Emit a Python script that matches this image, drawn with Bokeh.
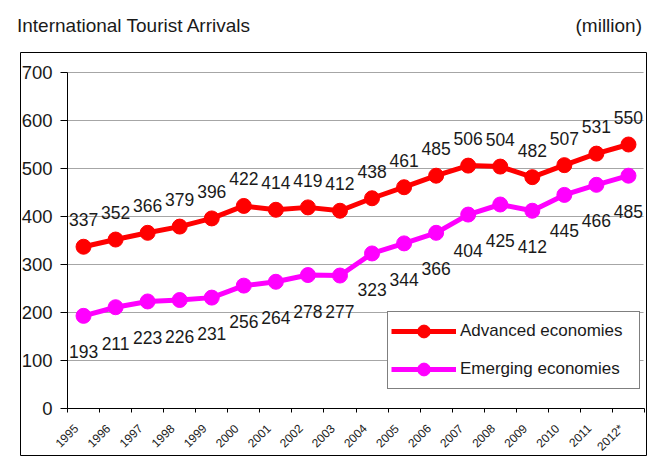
import math
from bokeh.plotting import figure
from bokeh.layouts import column
from bokeh.models import (ColumnDataSource, Range1d, LinearAxis, FixedTicker, Div,
                          CustomJSTickFormatter, Legend, LegendItem)
from bokeh.core.properties import value
from bokeh.embed import file_html
from bokeh.resources import INLINE

years = ["1995", "1996", "1997", "1998", "1999", "2000", "2001", "2002", "2003",
         "2004", "2005", "2006", "2007", "2008", "2009", "2010", "2011", "2012*"]
advanced = [337, 352, 366, 379, 396, 422, 414, 419, 412, 438, 461, 485, 506, 504, 482, 507, 531, 550]
emerging = [193, 211, 223, 226, 231, 256, 264, 278, 277, 323, 344, 366, 404, 425, 412, 445, 466, 485]
y_ticks = [0, 100, 200, 300, 400, 500, 600, 700]

FONT = "Liberation Sans"
RED = "#ff0000"
MAG = "#ff00ff"
TXT = "#1a1a1a"

# ---- layout constants (pixels) ----
HEADER_H = 52                 # header strip above the chart box
BOX_L, BOX_R = 20, 646        # chart box (the plot frame) in page x
BOX_H = 404                   # chart box height (to bottom of window)
AX_L, AX_R = 67, 644          # axis extents in page x
AX_TOP, AX_BOT = 72, 408      # y=700 and y=0 in page y
n = len(years)
ymax = y_ticks[-1]
cw = (AX_R - AX_L) / n                       # px per category
ppu = (AX_BOT - AX_TOP) / ymax               # px per unit
x_start = -(AX_L - BOX_L) / cw
x_end = n + (BOX_R - AX_R) / cw
y_end = ymax + (AX_TOP - HEADER_H) / ppu
y_start = -(HEADER_H + BOX_H - AX_BOT) / ppu

xpos = [i + 0.5 for i in range(n)]           # category centres

header = Div(text=(
    '<div style="position:relative;width:660px;height:%dpx;font-family:\'Liberation Sans\';'
    'font-size:19px;line-height:1;color:%s;">'
    '<span style="position:absolute;left:17px;top:16px;">International Tourist Arrivals</span>'
    '<span style="position:absolute;right:18px;top:16px;">(million)</span></div>') % (HEADER_H, TXT),
    width=660, height=HEADER_H, margin=0)

p = figure(width=BOX_R + 14, height=BOX_H, x_range=Range1d(x_start, x_end),
           y_range=Range1d(y_start, y_end),
           output_backend="svg", toolbar_location=None, title=None,
           x_axis_location=None, y_axis_location=None,
           min_border_left=BOX_L, min_border_right=14, min_border_top=0, min_border_bottom=0,
           margin=0)
p.outline_line_color = "black"
p.outline_line_width = 1
p.background_fill_color = "white"
p.border_fill_color = "white"
p.grid.visible = False

# gridlines between the axes
p.segment(x0=0, x1=n - 0.03, y0=y_ticks[1:], y1=y_ticks[1:], line_color="#a6a6a6", line_width=1)

# x axis: labels at category centres, ticks at category boundaries
xa = LinearAxis(ticker=FixedTicker(ticks=xpos, minor_ticks=list(range(n + 1))),
                formatter=CustomJSTickFormatter(
                    args=dict(labels=years),
                    code="return labels[Math.floor(tick)] + '\\u00a0\\u00a0\\u00a0';"),
                fixed_location=0, bounds=(0, n))
xa.major_tick_out = 4
xa.major_tick_in = 0
xa.major_tick_line_color = None
xa.minor_tick_out = 4
xa.minor_tick_in = 0
xa.minor_tick_line_color = "black"
xa.axis_line_color = "black"
xa.major_label_orientation = math.pi / 4
xa.major_label_standoff = 7
xa.major_label_text_font = FONT
xa.major_label_text_font_size = "12px"
xa.major_label_text_color = TXT
p.add_layout(xa, "below")

ya = LinearAxis(ticker=FixedTicker(ticks=y_ticks), fixed_location=0, bounds=(0, ymax))
ya.major_tick_out = 7
ya.major_tick_in = 0
ya.minor_tick_line_color = None
ya.axis_line_color = "black"
ya.major_tick_line_color = "black"
ya.major_label_standoff = 8
ya.major_label_text_font = FONT
ya.major_label_text_font_size = "18.5px"
ya.major_label_text_color = TXT
p.add_layout(ya, "left")

r1 = p.line(xpos, advanced, line_color=RED, line_width=5)
s1 = p.scatter(xpos, advanced, size=15, fill_color=RED, line_color=RED)
r2 = p.line(xpos, emerging, line_color=MAG, line_width=5)
s2 = p.scatter(xpos, emerging, size=15, fill_color=MAG, line_color=MAG)

src_a = ColumnDataSource(dict(x=xpos, y=advanced, t=[str(v) for v in advanced]))
src_e = ColumnDataSource(dict(x=xpos, y=emerging, t=[str(v) for v in emerging]))
p.text(x="x", y="y", text="t", source=src_a, text_align="center", text_baseline="alphabetic",
       y_offset=-27, text_font=value(FONT), text_font_size="17.5px", text_color=TXT)
p.text(x="x", y="y", text="t", source=src_e, text_align="center", text_baseline="alphabetic",
       y_offset=36, text_font=value(FONT), text_font_size="17.5px", text_color=TXT)

legend = Legend(items=[LegendItem(label="Advanced economies", renderers=[r1, s1]),
                       LegendItem(label="Emerging economies", renderers=[r2, s2])],
                location=(387 - BOX_L, HEADER_H + BOX_H - 389), padding=3, margin=0, spacing=6,
                glyph_height=32, glyph_width=65, label_height=32, label_width=176,
                label_standoff=4, border_line_color="black", border_line_width=1,
                background_fill_color="white", background_fill_alpha=1,
                label_text_font=FONT, label_text_font_size="17px", label_text_color=TXT)
p.add_layout(legend)

layout = column(header, p, spacing=0, margin=0)
open("out.html", "w").write(file_html(layout, INLINE))
